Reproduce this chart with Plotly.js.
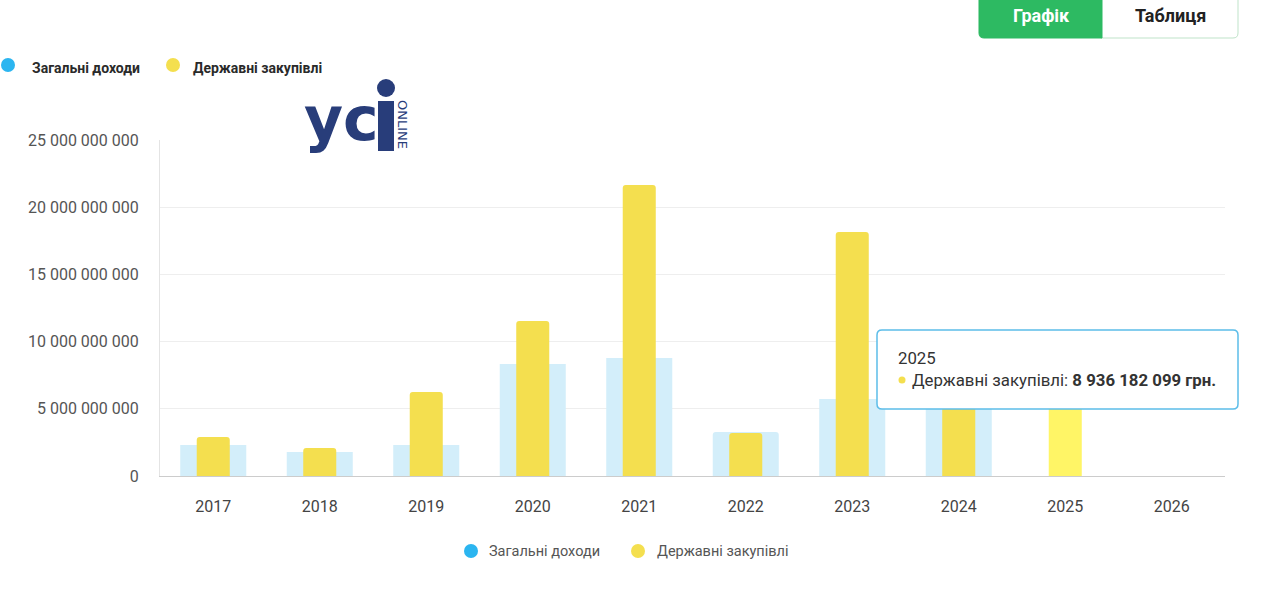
<!DOCTYPE html>
<html>
<head>
<meta charset="utf-8">
<script src="https://cdn.plot.ly/plotly-3.0.1.min.js"></script>
<style>
html,body{margin:0;padding:0;background:#fff;}
#chart{width:1280px;height:589px;}
</style>
</head>
<body>
<div id="chart"></div>
<script>
// ---- data ----
const years = ['2017','2018','2019','2020','2021','2022','2023','2024','2025','2026'];
const income = [2.31e9, 1.79e9, 2.31e9, 8.33e9, 8.78e9, 3.27e9, 5.73e9, 6.3e9, null, null];
const procurement = [2.90e9, 2.08e9, 6.25e9, 11.53e9, 21.65e9, 3.20e9, 18.15e9, 7.6e9, 8936182099, null];
const yTicks = [0, 5e9, 10e9, 15e9, 20e9, 25e9];
const yTickText = ['0','5 000 000 000','10 000 000 000','15 000 000 000','20 000 000 000','25 000 000 000'];
const seriesNames = ['Загальні доходи','Державні закупівлі'];
const hoverYear = '2025';
const hoverValueText = '8 936 182 099 грн.';

// ---- styling ----
const BLUE_BAR = '#d3eefa';
const YELLOW = '#f4df4f';
const YELLOW_HOVER = '#fff566';
const BLUE_DOT = '#2bb5f0';
const FONT = 'Roboto, "Noto Sans", sans-serif';

// plot area in pixels
const L = 160, R = 1225, T = 140, B = 476;
const px = x => (x - L) / (R - L);
const py = y => (B - y) / (B - T);

const yellowColors = years.map(y => y === hoverYear ? YELLOW_HOVER : YELLOW);

const traces = [
  {type:'bar', x: years, y: income, name: seriesNames[0], width: 0.62,
   marker:{color: BLUE_BAR, line:{width:0}}, hoverinfo:'skip'},
  {type:'bar', x: years, y: procurement, name: seriesNames[1], width: 0.31,
   marker:{color: yellowColors, line:{width:0}}, hoverinfo:'skip'}
];

function dot(cx, cy, r, color){
  return {type:'circle', xref:'paper', yref:'paper', xsizemode:'pixel', ysizemode:'pixel',
    xanchor: px(cx), yanchor: py(cy), x0:-r, x1:r, y0:-r, y1:r,
    fillcolor: color, line:{width:0}, layer:'above'};
}
function roundRect(x0, y0, x1, y1, r, corners, fill, lineColor, lw){
  const X = v => px(v).toFixed(6), Y = v => py(v).toFixed(6);
  const [tl,tr,br,bl] = corners;
  let p = `M ${X(x0 + (tl?r:0))},${Y(y0)} L ${X(x1 - (tr?r:0))},${Y(y0)}`;
  if (tr) p += ` Q ${X(x1)},${Y(y0)} ${X(x1)},${Y(y0+r)}`;
  p += ` L ${X(x1)},${Y(y1 - (br?r:0))}`;
  if (br) p += ` Q ${X(x1)},${Y(y1)} ${X(x1-r)},${Y(y1)}`;
  p += ` L ${X(x0 + (bl?r:0))},${Y(y1)}`;
  if (bl) p += ` Q ${X(x0)},${Y(y1)} ${X(x0)},${Y(y1-r)}`;
  p += ` L ${X(x0)},${Y(y0 + (tl?r:0))}`;
  if (tl) p += ` Q ${X(x0)},${Y(y0)} ${X(x0+r)},${Y(y0)}`;
  p += ' Z';
  return {type:'path', xref:'paper', yref:'paper', path:p, fillcolor:fill,
    line:{color: lineColor || fill, width: lw || 0}, layer:'above'};
}
function txt(x, y, text, opts){
  opts = opts || {};
  return Object.assign({xref:'paper', yref:'paper', x: px(x), y: py(y), text: text,
    showarrow:false, xanchor:'left', yanchor:'middle',
    font:{family: FONT, size: 14, color:'#444'}}, opts);
}

const LOGO = '#283d7a';

const shapes = [
  dot(8, 65, 7, BLUE_DOT),
  dot(173, 65, 7, YELLOW),
  dot(471, 551, 7, BLUE_DOT),
  dot(638, 551, 7, YELLOW),
  roundRect(1101, -5, 1238, 38, 5, [false,false,true,false], '#ffffff', '#bfe3c9', 1),
  roundRect(979, -5, 1102, 38, 5, [false,false,false,true], '#2dba62', '#2dba62', 1),
  {type:'rect', xref:'paper', yref:'paper', x0: px(378), x1: px(394), y0: py(151), y1: py(101),
   fillcolor: LOGO, line:{width:0}, layer:'above'},
  dot(386, 88, 9, LOGO),
  roundRect(877, 330, 1238, 409, 5, [true,true,true,true], '#ffffff', '#5cbde9', 1.5),
  dot(902, 380, 3.5, YELLOW)
];

const annotations = [
  txt(30, 68, '<b>' + seriesNames[0] + '</b>', {font:{family:FONT, size:14, color:'#2a2a2a'}}),
  txt(191, 68, '<b>' + seriesNames[1] + '</b>', {font:{family:FONT, size:14, color:'#2a2a2a'}}),
  txt(487, 551, seriesNames[0], {font:{family:FONT, size:14.5, color:'#555'}}),
  txt(655, 551, seriesNames[1], {font:{family:FONT, size:14.5, color:'#555'}}),
  txt(1041, 15, '<b>Графік</b>', {xanchor:'center', font:{family:FONT, size:18, color:'#ffffff'}}),
  txt(1170, 15, '<b>Таблиця</b>', {xanchor:'center', font:{family:FONT, size:18, color:'#222'}}),
  txt(341, 119, '<b>ус</b>', {xanchor:'center', font:{family:'DejaVu Sans', size:60, color:LOGO}}),
  txt(402, 124, 'ONLINE', {xanchor:'center', textangle:90, font:{family:'DejaVu Sans', size:13, color:LOGO}}),
  txt(896, 358, hoverYear, {font:{family:FONT, size:16.8, color:'#333'}}),
  txt(910, 380, seriesNames[1] + ': <b>' + hoverValueText + '</b>', {font:{family:FONT, size:16.8, color:'#333'}})
];

const layout = {
  width:1280, height:589,
  margin:{l:L, r:1280-R, t:T, b:589-B, pad:0},
  paper_bgcolor:'#ffffff', plot_bgcolor:'#ffffff',
  barmode:'overlay',
  barcornerradius: 3,
  showlegend:false,
  hovermode:false,
  font:{family:FONT},
  xaxis:{type:'category', categoryorder:'array', categoryarray: years,
    range:[-0.5, 9.5], showgrid:false, showline:true, linecolor:'#cccccc', linewidth:1,
    ticks:'', tickfont:{family:FONT, size:16, color:'#444'}, ticklabelstandoff: 16, fixedrange:true},
  yaxis:{range:[0, 25e9], tickvals: yTicks, ticktext: yTickText,
    showgrid:true, gridcolor:'#eeeeee', gridwidth:1, zeroline:false,
    showline:true, linecolor:'#e4e4e4', linewidth:1,
    ticks:'', ticklabelstandoff: 17, tickfont:{family:FONT, size:16, color:'#555'}, fixedrange:true},
  shapes: shapes,
  annotations: annotations
};

Plotly.newPlot('chart', traces, layout, {displayModeBar:false, staticPlot:true});
</script>
</body>
</html>
